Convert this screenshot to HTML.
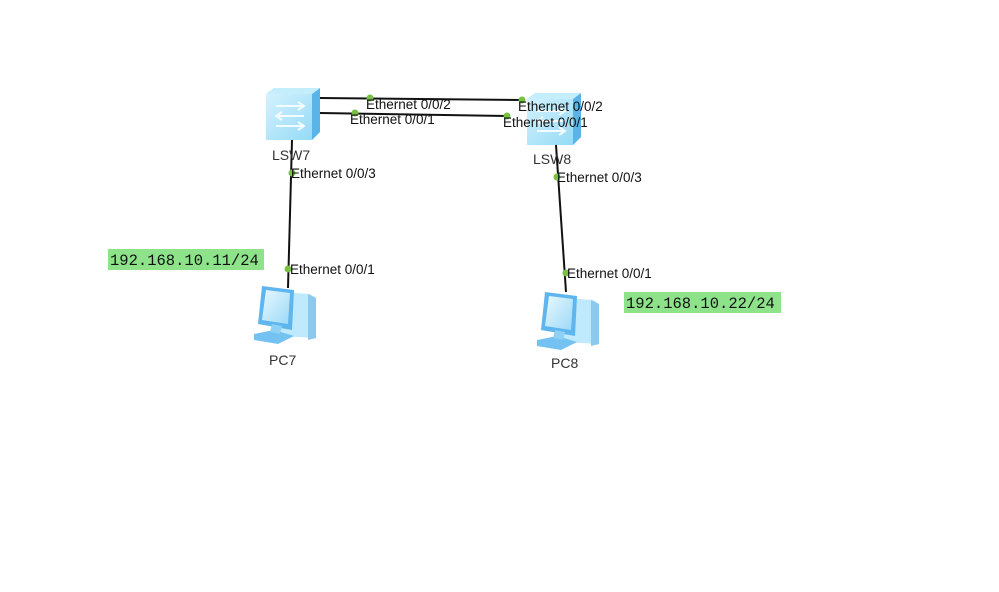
<!DOCTYPE html>
<html><head><meta charset="utf-8"><style>
html,body{margin:0;padding:0;background:#fff;}
svg text{font-family:"Liberation Sans",Arial,sans-serif;}
</style></head><body>
<svg width="999" height="587" viewBox="0 0 999 587" xmlns="http://www.w3.org/2000/svg">
<defs>
<linearGradient id="sw" x1="0" y1="0" x2="1" y2="1"><stop offset="0" stop-color="#d8f4ff"/><stop offset="1" stop-color="#8fd8f5"/></linearGradient>
<linearGradient id="scr" x1="0" y1="0" x2="1" y2="1"><stop offset="0" stop-color="#e8f8ff"/><stop offset="1" stop-color="#9bd9f7"/></linearGradient>
<g id="switch">
<polygon points="0,6 8,0 54,0 54,44 46,52 0,52" fill="url(#sw)"/>
<polygon points="46,6 54,0 54,44 46,52" fill="#5bb4e8"/>
<polygon points="0,6 8,0 54,0 46,6" fill="#c4eefc"/>
<g stroke="#f2fbff" stroke-width="2" fill="none">
<path d="M10,18 H38 M32,14 L38,18 L32,22"/>
<path d="M38,28 H10 M16,24 L10,28 L16,32"/>
<path d="M10,38 H38 M32,34 L38,38 L32,42"/>
</g>
</g>
<g id="pc">
<polygon points="30,8 60,10 66,14 66,54 30,52" fill="#bfe9fc"/>
<polygon points="58,10 66,14 66,54 58,56" fill="#8cc9ef"/>
<polygon points="12,2 44,6 42,46 8,40" fill="#5fb6ee"/>
<polygon points="16,6 40,9 38,40 12,36" fill="url(#scr)"/>
<polygon points="4,50 24,46 44,52 28,60 4,56" fill="#74c2f2"/>
<polygon points="22,40 32,42 30,50 20,48" fill="#8fd0f5"/>
</g>
</defs>
<use href="#switch" x="266" y="88"/>
<use href="#switch" x="527" y="93"/>
<use href="#pc" x="250" y="284"/>
<use href="#pc" x="533" y="290"/>
<g stroke="#111" stroke-width="2">
<line x1="320" y1="98" x2="522" y2="100"/>
<line x1="320" y1="113" x2="507" y2="116"/>
<line x1="292" y1="140" x2="288" y2="288"/>
<line x1="556" y1="145" x2="566" y2="292"/>
</g>
<g fill="#77c043">
<circle cx="370" cy="98" r="3.5"/><circle cx="522" cy="100" r="3.5"/>
<circle cx="355" cy="113" r="3.5"/><circle cx="507" cy="116" r="3.5"/>
<circle cx="292" cy="173" r="3.5"/><circle cx="288" cy="269" r="3.5"/>
<circle cx="557" cy="177" r="3.5"/><circle cx="566" cy="273" r="3.5"/>
</g>
<g font-size="13.5" fill="#111">
<text x="366" y="109">Ethernet 0/0/2</text>
<text x="518" y="111">Ethernet 0/0/2</text>
<text x="350" y="124">Ethernet 0/0/1</text>
<text x="503" y="127">Ethernet 0/0/1</text>
<text x="291" y="178">Ethernet 0/0/3</text>
<text x="557" y="182">Ethernet 0/0/3</text>
<text x="290" y="274">Ethernet 0/0/1</text>
<text x="567" y="278">Ethernet 0/0/1</text>
</g>
<g font-size="14" fill="#333">
<text x="272" y="160">LSW7</text>
<text x="533" y="164">LSW8</text>
<text x="269" y="365">PC7</text>
<text x="551" y="368">PC8</text>
</g>
<rect x="108" y="249" width="156" height="21" fill="#8ee38a"/>
<rect x="624" y="292" width="157" height="21" fill="#8ee38a"/>
<g fill="#111" font-size="15.5">
<text x="110" y="265" style="font-family:'Liberation Mono',monospace">192.168.10.11/24</text>
<text x="626" y="308" style="font-family:'Liberation Mono',monospace">192.168.10.22/24</text>
</g>
</svg>
</body></html>
